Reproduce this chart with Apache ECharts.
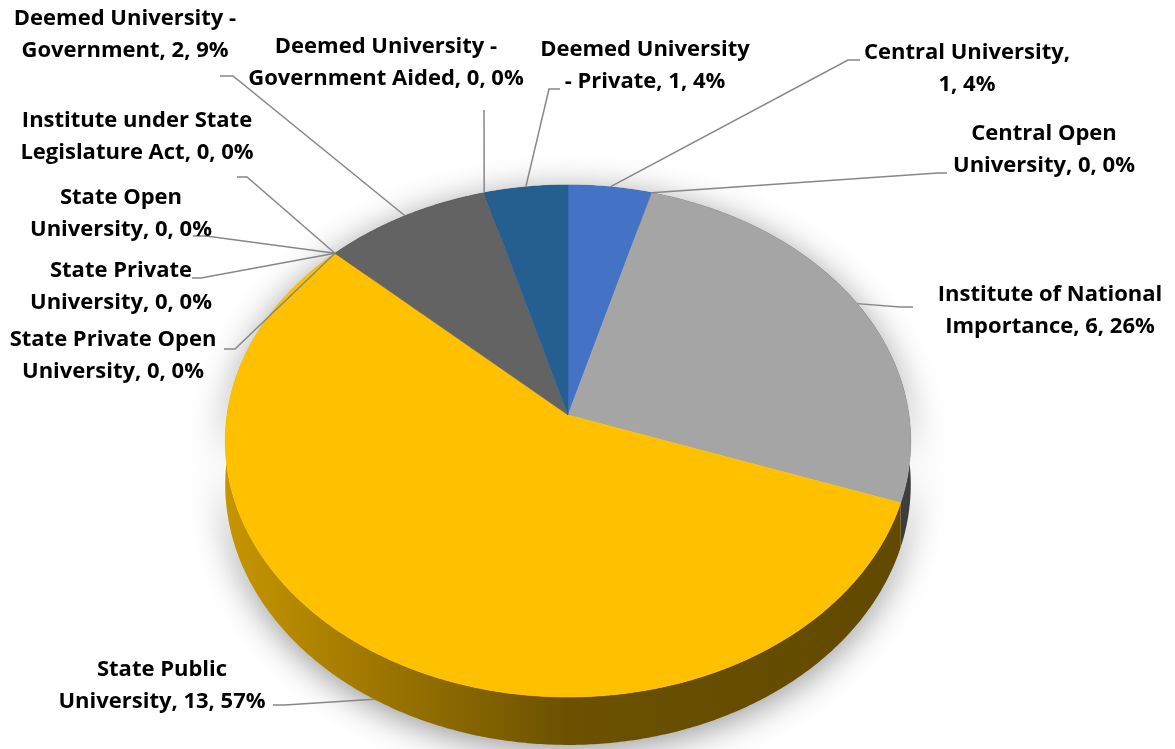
<!DOCTYPE html>
<html><head><meta charset="utf-8">
<script src="https://cdn.jsdelivr.net/npm/echarts@6/dist/echarts.min.js"></script>
<style>html,body{margin:0;padding:0;background:#fff}#c{width:1175px;height:749px}</style>
</head><body><div id="c"></div>
<script>
// ---- data (clockwise from 12 o'clock) ----
const categories = [
  'Central University',
  'Central Open University',
  'Institute of National Importance',
  'State Public University',
  'State Private Open University',
  'State Private University',
  'State Open University',
  'Institute under State Legislature Act',
  'Deemed University - Government',
  'Deemed University - Government Aided',
  'Deemed University - Private'
];
const values = [1, 0, 6, 13, 0, 0, 0, 0, 2, 0, 1];
const colors = ['#4472C4','#ED7D31','#A5A5A5','#FFC000','#5B9BD5','#70AD47','#264478','#9E480E','#636363','#997300','#255E91'];

// ---- label layout (not data): words on first line, text centre, leader start, leader kink, drop onto side wall ----
const firstLineWords = [2, 2, 3, 2, 3, 2, 2, 3, 3, 3, 2];
const labelLayout = [
  {tx: 967,  ty: 69,  sx: 860, sy: 60,  kx: 848, ky: 60,  drop: 0},
  {tx: 1044, ty: 150, sx: 947, sy: 173, kx: 938, ky: 173, drop: 0},
  {tx: 1050, ty: 311, sx: 913, sy: 307, kx: 900, ky: 307, drop: 0},
  {tx: 162,  ty: 686, sx: 273, sy: 705, kx: 285, ky: 705, drop: 1},
  {tx: 113,  ty: 356, sx: 224, sy: 349, kx: 235, ky: 349, drop: 0},
  {tx: 121,  ty: 287, sx: 192, sy: 278, kx: 201, ky: 278, drop: 0},
  {tx: 121,  ty: 214, sx: 193, sy: 236, kx: 206, ky: 236, drop: 0},
  {tx: 137,  ty: 137, sx: 237, sy: 177, kx: 247, ky: 177, drop: 0},
  {tx: 125,  ty: 35,  sx: 220, sy: 76,  kx: 233, ky: 76,  drop: 0},
  {tx: 386,  ty: 63,  sx: 484, sy: 110, kx: 484, ky: 112, drop: 0},
  {tx: 645,  ty: 66,  sx: 560, sy: 89,  kx: 549, ky: 89,  drop: 0}
];

const total = values.reduce((a, b) => a + b, 0);
const cum = []; let acc = 0; values.forEach(v => { cum.push(acc); acc += v; });

// perspective disk geometry
const geo = {cx: 568, cy: 415, A: 341, B: 253.4, k: 0.1016, depth: 43};
function rim(theta) {
  const t = theta * Math.PI / 180;
  const u = Math.sin(t), v = -Math.cos(t);
  const w = 1 - geo.k * v;
  return {x: geo.cx + geo.A * u / w, y: geo.cy + geo.B * v / w, d: geo.depth / w};
}
function shade(hex, f) {
  const n = parseInt(hex.slice(1), 16);
  const r = Math.round(((n >> 16) & 255) * f), g = Math.round(((n >> 8) & 255) * f), b = Math.round((n & 255) * f);
  return 'rgb(' + r + ',' + g + ',' + b + ')';
}
function labelText(i) {
  const pct = Math.round(values[i] / total * 100);
  const words = (categories[i] + ', ' + values[i] + ', ' + pct + '%').split(' ');
  const n = firstLineWords[i];
  return words.slice(0, n).join(' ') + '\n' + words.slice(n).join(' ');
}

const chart = echarts.init(document.getElementById('c'), null, {renderer: 'canvas'});
chart.setOption({
  backgroundColor: '#ffffff',
  animation: false,
  series: [{
    type: 'custom',
    coordinateSystem: 'none',
    data: values.map((v, i) => [i, v]),
    renderItem: function (params, api) {
      const i = params.dataIndex;
      const v = values[i];
      const a0 = cum[i] / total * 360, a1 = (cum[i] + v) / total * 360;
      const children = [];
      if (v > 0) {
        const steps = Math.max(2, Math.ceil((a1 - a0) / 0.5));
        const top = [], bot = [];
        for (let s = 0; s <= steps; s++) {
          const p = rim(a0 + (a1 - a0) * s / steps);
          top.push([p.x, p.y]);
          bot.push([p.x, p.y + p.d]);
        }
        const xl = geo.cx - geo.A * 1.01, xr = geo.cx + geo.A * 1.01;
        children.push({
          type: 'polygon', z2: 1,
          shape: {points: top.concat(bot.slice().reverse())},
          style: {
            fill: new echarts.graphic.LinearGradient(xl, 0, xr, 0, [
              {offset: 0, color: shade(colors[i], 0.78)},
              {offset: 0.25, color: shade(colors[i], 0.6)},
              {offset: 0.5, color: shade(colors[i], 0.42)},
              {offset: 1, color: shade(colors[i], 0.38)}
            ], true),
            shadowBlur: 34, shadowColor: 'rgba(0,0,0,0.42)', shadowOffsetY: 6
          }
        });
        children.push({
          type: 'polygon', z2: 10,
          shape: {points: [[geo.cx, geo.cy]].concat(top)},
          style: {fill: colors[i], stroke: colors[i], lineWidth: 0.5}
        });
      }
      const L = labelLayout[i];
      const am = rim((a0 + a1) / 2);
      children.push({
        type: 'polyline', z2: 20,
        shape: {points: [[L.sx, L.sy], [L.kx, L.ky], [am.x, am.y + am.d * L.drop]]},
        style: {stroke: '#878787', lineWidth: 1.5, fill: null}
      });
      children.push({
        type: 'text', z2: 30,
        x: L.tx, y: L.ty,
        style: {
          text: labelText(i), align: 'center', verticalAlign: 'middle',
          font: 'bold 22px "Open Sans"', lineHeight: 32, fill: '#000000'
        }
      });
      return {type: 'group', children: children};
    }
  }]
});
</script>
</body></html>
